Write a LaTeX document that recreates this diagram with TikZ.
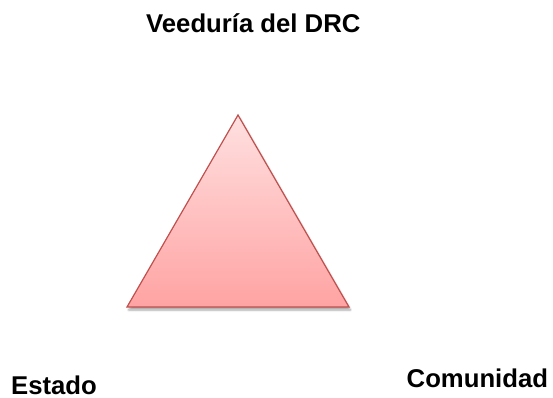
\documentclass[tikz,border=0pt]{standalone}
\usepackage{fontspec}
\setmainfont{Liberation Sans}
\usetikzlibrary{shadows.blur}
\definecolor{triTop}{RGB}{255,224,224}
\definecolor{triBot}{RGB}{255,163,163}
\definecolor{triLine}{RGB}{192,80,77}
\tikzset{
  lbl/.style={anchor=base west, inner sep=0pt, text depth=0pt, font=\fontsize{25.7}{30}\selectfont\bfseries},
  tri/.style={draw=triLine, line width=1.2pt, top color=triTop, bottom color=triBot, line join=miter,
    blur shadow={shadow xshift=1.5pt, shadow yshift=-3pt, shadow opacity=35, shadow blur steps=6, shadow blur radius=2pt}}
}
\begin{document}
\begin{tikzpicture}[x=1pt,y=-1pt]
\useasboundingbox (0,0) rectangle (553,398);
\coordinate (apex) at (238,115);
\coordinate (bl) at (127,307);
\coordinate (br) at (349,307);
\path[tri] (apex) -- (br) -- (bl) -- cycle;
\node[lbl] (veed) at (146,32.5) {Veeduría del DRC};
\node[lbl] (estado) at (11,394) {Estado};
\node[lbl] (comun) at (406.5,387) {Comunidad};
\end{tikzpicture}
\end{document}
